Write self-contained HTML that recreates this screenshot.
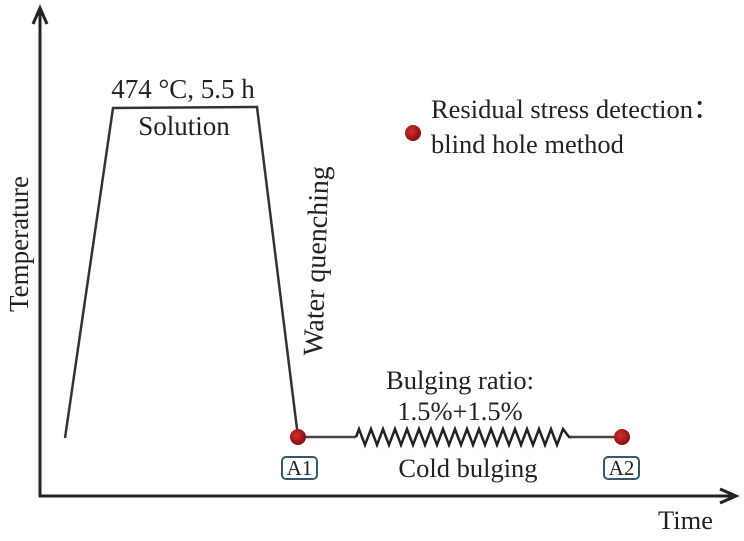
<!DOCTYPE html>
<html><head><style>
body{margin:0;background:#fff;}
svg text{font-family:"Liberation Serif",serif;fill:#222;}
</style></head><body>
<svg width="744" height="536" viewBox="0 0 744 536" xmlns="http://www.w3.org/2000/svg">
<defs><radialGradient id="g" cx="40%" cy="40%" r="60%"><stop offset="0" stop-color="#d03030"/><stop offset="1" stop-color="#8a0f0f"/></radialGradient></defs>
<line x1="40" y1="10" x2="40" y2="497" stroke="#222" stroke-width="3"/>
<polyline points="33,24 40,8 47,24" fill="none" stroke="#222" stroke-width="3"/>
<line x1="39" y1="496" x2="735" y2="496" stroke="#222" stroke-width="3"/>
<polyline points="720,489 736,496 720,503" fill="none" stroke="#222" stroke-width="3"/>
<polyline points="65,438 113,108 257,107 298,437" fill="none" stroke="#333" stroke-width="2.5"/>
<line x1="298" y1="437" x2="356" y2="437" stroke="#444" stroke-width="2.5"/>
<polyline points="356,437 359,429 365,445 371,429 377,445 383,429 389,445 395,429 401,445 407,429 413,445 419,429 425,445 431,429 437,445 443,429 449,445 455,429 461,445 467,429 473,445 479,429 485,445 491,429 497,445 503,429 509,445 515,429 521,445 527,429 533,445 539,429 545,445 551,429 557,445 563,429 569,437 572,437" fill="none" stroke="#222" stroke-width="2.5"/>
<line x1="570" y1="437" x2="622" y2="437" stroke="#444" stroke-width="2.5"/>
<circle cx="298" cy="437" r="8" fill="url(#g)"/>
<circle cx="622" cy="437" r="8" fill="url(#g)"/>
<circle cx="413" cy="133" r="8" fill="url(#g)"/>
<rect x="282" y="457" width="35" height="22" rx="4" fill="#fff" stroke="#35586a" stroke-width="2"/>
<rect x="604" y="457" width="35" height="22" rx="4" fill="#fff" stroke="#35586a" stroke-width="2"/>
<text x="299.5" y="475" font-size="21" text-anchor="middle">A1</text>
<text x="621.5" y="475" font-size="21" text-anchor="middle">A2</text>
<text x="183" y="98" font-size="27" text-anchor="middle">474 °C, 5.5 h</text>
<text x="184" y="135" font-size="27" text-anchor="middle">Solution</text>
<text x="431" y="118" font-size="26.5">Residual stress detection：</text>
<text x="431" y="153" font-size="26.5">blind hole method</text>
<text transform="translate(322,356) rotate(-88)" font-size="28">Water quenching</text>
<text transform="translate(28,312) rotate(-90)" font-size="27">Temperature</text>
<text x="460" y="389" font-size="26.5" text-anchor="middle">Bulging ratio:</text>
<text x="460" y="420" font-size="26.5" text-anchor="middle">1.5%+1.5%</text>
<text x="468" y="477" font-size="26.5" text-anchor="middle">Cold bulging</text>
<text x="658" y="529" font-size="26.5">Time</text>
</svg>
</body></html>
